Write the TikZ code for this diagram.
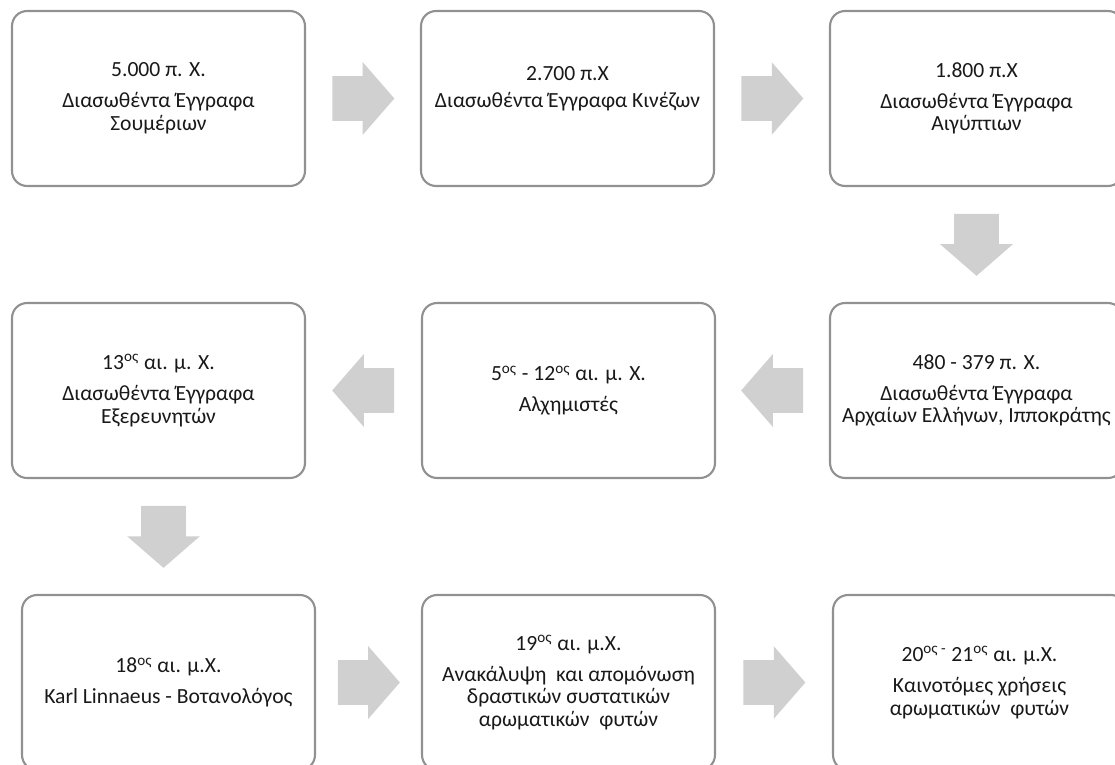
\documentclass[tikz,border=0pt]{standalone}
\usepackage{fontspec}
\setmainfont{Carlito}
\usetikzlibrary{shapes.arrows,calc}
\definecolor{boxgray}{RGB}{145,145,145}
\definecolor{arrowgray}{RGB}{208,208,208}
\newcommand{\ordos}{\textsuperscript{ος}}

\begin{document}
\begin{tikzpicture}[x=0.02cm, y=-0.02cm,
  era/.style={draw=boxgray, line width=1.2pt, rounded corners=0.3cm, minimum width=5.86cm, minimum height=3.5cm, align=center, font=\fontsize{12.3}{12.9}\selectfont, text=black!90},
  flow/.style={single arrow, fill=arrowgray, draw=none, minimum height=1.24cm, minimum width=1.44cm, single arrow head extend=0.28cm, single arrow tip angle=98, inner xsep=0pt, inner ysep=0.44cm, anchor=tail}]
  \useasboundingbox (0,0) rectangle (1115,764);
  \clip (0,0) rectangle (1115,764);

  \node[era] (e0) at (158.5,98.5) {5.000 π. Χ.\\[4.7pt] Διασωθέντα Έγγραφα\\ Σουμέριων};
  \node[era] (e1) at (567.5,98.5) {2.700 π.Χ\\[2.5pt] Διασωθέντα Έγγραφα Κινέζων\\ ~};
  \node[era] (e2) at (976.5,98.5) {1.800 π.Χ\\[4.7pt] Διασωθέντα Έγγραφα\\ Αιγύπτιων};

  \node[era] (e3) at (976.5,390.5) {480 - 379 π. Χ.\\[4.7pt] Διασωθέντα Έγγραφα\\ Αρχαίων Ελλήνων, Ιπποκράτης};
  \node[era] (e4) at (568.5,390.5) {5\ordos{} - 12\ordos{} αι. μ. Χ.\\[4.7pt] Αλχημιστές};
  \node[era] (e5) at (158.5,390.5) {13\ordos{} αι. μ. Χ.\\[4.7pt] Διασωθέντα Έγγραφα\\ Εξερευνητών};

  \node[era] (e6) at (168.5,682.5) {18\ordos{} αι. μ.Χ.\\[4.7pt] Karl Linnaeus - Βοτανολόγος};
  \node[era] (e7) at (568.5,682.5) {19\ordos{} αι. μ.Χ.\\[4.7pt] Ανακάλυψη \ και απομόνωση\\ δραστικών συστατικών\\ αρωματικών \ φυτών};
  \node[era] (e8) at (979.5,682.5) {20\textsuperscript{ος -} 21\ordos{} αι. μ.Χ.\\[4.7pt] Καινοτόμες χρήσεις\\ αρωματικών \ φυτών};

  \node[flow] (a0) at ($(e0.east)!0.5!(e1.west)+(-31,0)$) {};
  \node[flow] (a1) at ($(e1.east)!0.5!(e2.west)+(-31,0)$) {};
  \node[flow, rotate=-90] (a2) at ($(e2.south)!0.5!(e3.north)+(0,-31)$) {};
  \node[flow, rotate=180] (a3) at ($(e3.west)!0.5!(e4.east)+(31,0)$) {};
  \node[flow, rotate=180] (a4) at ($(e4.west)!0.5!(e5.east)+(31,0)$) {};
  \node[flow, rotate=-90] (a5) at ($(e5.south)!0.5!(e6.north)+(0,-31)$) {};
  \node[flow] (a6) at ($(e6.east)!0.5!(e7.west)+(-31,0)$) {};
  \node[flow] (a7) at ($(e7.east)!0.5!(e8.west)+(-31,0)$) {};
\end{tikzpicture}
\end{document}
